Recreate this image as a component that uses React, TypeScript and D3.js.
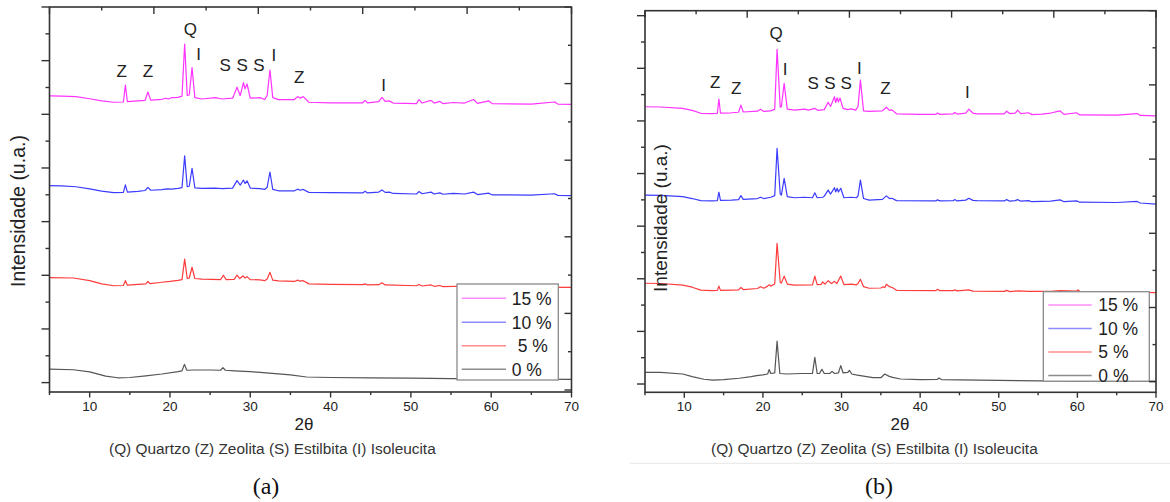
import React from "react";
import * as d3 from "d3";

type Pt = [number, number];
type PeakLabel = { t: string; x: number; y: number };

// ---------------- DATA ----------------
const TWO_THETA_TICKS = [10, 20, 30, 40, 50, 60, 70];
const TWO_THETA_MINOR = [5, 15, 25, 35, 45, 55, 65];
const SERIES_NAMES = ["15 %", "10 %", "5 %", "0 %"];
const CAPTION = "(Q) Quartzo (Z) Zeolita (S) Estilbita (I) Isoleucita";
const X_LABEL = "2θ";
const Y_LABEL = "Intensidade (u.a.)";

// panel (a)
const a15: Pt[] = [[5,10.69],[6.5,10.68],[8.3,10.66],[10,10.58],[11.5,10.5],[13,10.45],[14.2,10.46],[14.45,11.09],[14.7,10.47],[16,10.5],[16.9,10.52],[17.25,10.83],[17.6,10.53],[19,10.56],[19.5,10.6],[19.8,10.57],[20.2,10.62],[21,10.63],[21.5,10.68],[21.83,12.62],[22.15,10.7],[22.4,10.72],[22.75,11.74],[23.1,10.62],[24,10.57],[25.6,10.62],[26.5,10.57],[27.8,10.6],[28.35,11.01],[28.75,10.7],[29.15,11.18],[29.35,10.95],[29.6,11.13],[30,10.6],[31.2,10.62],[31.8,10.55],[32.1,10.7],[32.45,11.65],[32.8,10.62],[33.5,10.55],[35.5,10.55],[35.9,10.66],[36.2,10.6],[36.6,10.66],[37.3,10.45],[40,10.43],[44,10.43],[44.3,10.52],[44.6,10.43],[46,10.47],[46.4,10.63],[46.8,10.48],[47.3,10.5],[47.8,10.42],[50.7,10.4],[51,10.55],[51.4,10.42],[52.5,10.52],[52.9,10.42],[53.6,10.48],[54,10.4],[55.3,10.44],[56.7,10.42],[57.8,10.55],[58.3,10.41],[59.7,10.5],[60.1,10.4],[65,10.38],[67.9,10.46],[68.3,10.38],[70,10.37]];
const a10: Pt[] = [[5,7.34],[6.5,7.33],[8.3,7.3],[10,7.22],[11.5,7.14],[13,7.08],[14.2,7.09],[14.45,7.37],[14.7,7.1],[16,7.13],[16.9,7.16],[17.25,7.28],[17.6,7.17],[19,7.19],[19.6,7.22],[20.2,7.21],[21,7.24],[21.5,7.27],[21.83,8.45],[22.15,7.3],[22.4,7.32],[22.75,7.99],[23.1,7.26],[24,7.24],[25.6,7.25],[26.5,7.23],[27.8,7.25],[28.35,7.53],[28.75,7.36],[29.15,7.55],[29.35,7.42],[29.6,7.52],[30,7.25],[31.2,7.23],[31.8,7.2],[32.1,7.28],[32.45,7.85],[32.8,7.2],[33.5,7.15],[35.5,7.15],[35.9,7.21],[36.2,7.17],[36.6,7.2],[37.3,7.09],[40,7.08],[44,7.07],[44.3,7.13],[44.6,7.07],[46,7.1],[46.4,7.18],[46.8,7.09],[47.3,7.1],[47.8,7.05],[50.7,7.03],[51,7.12],[51.4,7.04],[52.5,7.1],[52.9,7.03],[53.6,7.07],[54,7.02],[55.3,7.05],[56.7,7.03],[57.8,7.1],[58.3,7.01],[59.7,7.06],[60.1,7],[65,6.99],[67.9,7.04],[68.3,6.98],[70,6.97]];
const a5: Pt[] = [[5,3.91],[8,3.9],[10,3.8],[11.5,3.68],[13,3.61],[14.2,3.62],[14.45,3.8],[14.7,3.63],[16,3.66],[17,3.68],[17.25,3.77],[17.5,3.69],[19,3.74],[20,3.77],[21,3.81],[21.5,3.84],[21.83,4.6],[22.15,3.88],[22.4,3.9],[22.75,4.3],[23.1,3.88],[24,3.86],[26.3,3.84],[26.65,4],[27,3.84],[28,3.85],[28.35,4.01],[28.7,3.88],[29.1,3.98],[29.35,3.9],[29.6,3.95],[30,3.84],[31.2,3.83],[31.8,3.8],[32.1,3.86],[32.45,4.11],[32.8,3.82],[33.5,3.79],[35.5,3.77],[35.9,3.82],[36.2,3.78],[36.6,3.8],[37.3,3.68],[40,3.66],[44,3.65],[44.3,3.68],[44.6,3.64],[46,3.65],[46.4,3.72],[46.8,3.64],[50.7,3.61],[51,3.66],[51.4,3.6],[52.5,3.64],[52.9,3.59],[53.6,3.62],[54,3.58],[57.8,3.6],[60,3.57],[65,3.56],[70,3.55]];
const a0: Pt[] = [[5,0.5],[8,0.48],[10,0.4],[12,0.24],[13.5,0.18],[15,0.19],[17,0.25],[19,0.32],[21,0.41],[21.5,0.44],[21.8,0.68],[22.1,0.46],[23,0.47],[25,0.47],[26.3,0.46],[26.6,0.56],[26.9,0.46],[28,0.44],[30,0.41],[32,0.36],[35,0.29],[37,0.21],[40,0.19],[45,0.18],[50,0.17],[55,0.15],[60,0.14],[65,0.13],[70,0.12]];
const aLabels: PeakLabel[] = [
  { t: "Z", x: 13.99, y: 11.61 }, { t: "Z", x: 17.25, y: 11.61 }, { t: "Q", x: 22.53, y: 13.17 },
  { t: "I", x: 23.57, y: 12.24 }, { t: "S", x: 26.88, y: 11.86 }, { t: "S", x: 28.98, y: 11.86 },
  { t: "S", x: 31.09, y: 11.86 }, { t: "I", x: 32.95, y: 12.21 }, { t: "Z", x: 36.09, y: 11.4 },
  { t: "I", x: 46.61, y: 11.09 },
];

// panel (b)
const b15: Pt[] = [[5,10.54],[7,10.53],[9.8,10.48],[11,10.4],[12.1,10.29],[13.5,10.28],[14.2,10.29],[14.4,10.83],[14.6,10.3],[16,10.31],[16.9,10.33],[17.2,10.6],[17.5,10.34],[19.3,10.37],[19.7,10.44],[20.1,10.36],[21,10.38],[21.5,10.45],[21.8,12.72],[22.2,10.52],[22.35,10.55],[22.7,11.43],[23.1,10.45],[24,10.41],[25.3,10.45],[25.8,10.41],[26.6,10.48],[27,10.4],[27.8,10.43],[28.3,10.71],[28.6,10.55],[29.1,10.92],[29.25,10.7],[29.45,10.88],[29.6,10.72],[29.8,10.87],[30.2,10.48],[30.8,10.43],[31.2,10.46],[31.8,10.41],[32.1,10.55],[32.4,11.55],[32.8,10.38],[33.5,10.36],[35.2,10.38],[35.7,10.52],[36.1,10.4],[36.4,10.42],[37,10.27],[40,10.25],[42,10.25],[42.2,10.3],[42.5,10.25],[44.2,10.27],[44.4,10.32],[44.7,10.26],[45.8,10.3],[46.2,10.45],[46.7,10.3],[47.2,10.27],[50.7,10.27],[51,10.37],[51.4,10.28],[52.1,10.3],[52.4,10.41],[52.8,10.28],[53.8,10.31],[54.2,10.24],[55.5,10.26],[56.6,10.3],[57.8,10.38],[58.3,10.25],[59.9,10.31],[60.3,10.23],[65,10.22],[67.6,10.28],[68,10.21],[70,10.19]];
const b10: Pt[] = [[5,7.18],[7,7.17],[9.8,7.12],[11,7.05],[12.1,6.97],[13.5,6.96],[14.2,6.97],[14.4,7.29],[14.6,6.98],[16,6.99],[16.9,7.01],[17.2,7.16],[17.5,7.02],[19.3,7.05],[19.7,7.1],[20.1,7.05],[21,7.1],[21.5,7.16],[21.8,8.96],[22.2,7.22],[22.35,7.18],[22.7,7.82],[23.1,7.12],[24,7.08],[25.3,7.1],[26.3,7.08],[26.6,7.27],[26.9,7.08],[27.6,7.1],[27.8,7.14],[28.3,7.37],[28.6,7.22],[29.1,7.46],[29.25,7.3],[29.45,7.44],[29.6,7.3],[29.9,7.44],[30.3,7.08],[31.2,7.1],[31.9,7.08],[32.1,7.15],[32.4,7.75],[32.8,7.05],[33.5,6.99],[35.2,7.02],[35.7,7.15],[36.1,7.05],[36.4,7.06],[37,6.97],[42,6.96],[42.2,7],[42.5,6.96],[44.2,6.97],[44.4,7.01],[44.7,6.96],[45.8,6.99],[46.2,7.06],[46.7,6.98],[47.2,6.97],[50.7,6.96],[51,7.01],[51.4,6.95],[52.1,6.97],[52.4,7.01],[52.8,6.95],[53.8,6.97],[54.2,6.93],[56.6,6.95],[57.8,7],[58.3,6.93],[59.9,6.96],[60.3,6.91],[65,6.9],[67.6,6.94],[68,6.88],[70,6.84]];
const b5: Pt[] = [[5,3.83],[7,3.82],[9.8,3.76],[11,3.68],[12.1,3.57],[13.5,3.55],[14.2,3.56],[14.4,3.72],[14.6,3.56],[16,3.57],[16.9,3.58],[17.2,3.67],[17.5,3.59],[19.3,3.63],[19.7,3.7],[20.1,3.64],[20.6,3.72],[20.8,3.78],[21,3.72],[21.5,3.8],[21.8,5.35],[22.2,3.86],[22.35,3.84],[22.7,4.1],[23.1,3.8],[24,3.76],[26.3,3.77],[26.6,4.1],[26.9,3.78],[27.4,3.79],[27.6,3.88],[27.9,3.8],[28.3,3.93],[28.7,3.82],[29.1,3.9],[29.4,3.82],[29.9,4.1],[30.3,3.78],[31.2,3.8],[31.9,3.77],[32.1,3.82],[32.4,3.98],[32.8,3.7],[33.5,3.64],[35,3.65],[35.3,3.7],[35.5,3.66],[35.7,3.79],[36.1,3.7],[36.5,3.66],[37,3.56],[42,3.55],[42.2,3.6],[42.5,3.55],[44.2,3.55],[44.4,3.58],[44.7,3.54],[46.2,3.58],[46.7,3.53],[50.7,3.52],[51,3.56],[51.4,3.51],[52.4,3.54],[53.8,3.52],[56.6,3.52],[57.8,3.55],[59.9,3.53],[60.1,3.58],[60.4,3.5],[65,3.49],[70,3.47]];
const b0: Pt[] = [[5,0.44],[7,0.44],[9.8,0.38],[11,0.28],[12.5,0.18],[13.6,0.15],[15,0.17],[17,0.22],[18.5,0.28],[19.2,0.32],[20,0.35],[20.6,0.38],[20.8,0.55],[21,0.4],[21.5,0.42],[21.8,1.63],[22.15,0.4],[23,0.38],[25,0.4],[26.3,0.4],[26.6,1.01],[26.9,0.4],[27.2,0.4],[27.5,0.56],[27.8,0.4],[28.5,0.4],[28.8,0.48],[29.1,0.4],[29.6,0.42],[29.9,0.7],[30.2,0.42],[30.8,0.44],[31,0.52],[31.3,0.38],[32,0.34],[34,0.24],[35,0.24],[35.5,0.38],[36,0.3],[36.5,0.25],[37.5,0.19],[40,0.17],[42.2,0.18],[42.4,0.23],[42.7,0.17],[45,0.16],[50,0.14],[55,0.12],[60,0.11],[65,0.11],[70,0.11]];
const bLabels: PeakLabel[] = [
  { t: "Z", x: 13.93, y: 11.47 }, { t: "Z", x: 16.61, y: 11.24 }, { t: "Q", x: 21.69, y: 13.33 },
  { t: "I", x: 22.82, y: 11.97 }, { t: "S", x: 26.39, y: 11.45 }, { t: "S", x: 28.51, y: 11.45 },
  { t: "S", x: 30.58, y: 11.45 }, { t: "I", x: 32.27, y: 12.02 }, { t: "Z", x: 35.57, y: 11.24 },
  { t: "I", x: 46.01, y: 11.11 },
];

// ---------------- STYLE ----------------
const CURVE_COLORS = ["#ff33ff", "#3c3cff", "#ff3c3c", "#555555"];
const LEGEND_COLORS = ["#ff8cff", "#8c8cff", "#ff8c8c", "#8c8c8c"];
const SANS = "'Liberation Sans', Arial, sans-serif";
const AXIS = "#333333";

type Layout = {
  x0: number; x1: number; top: number; bottom: number;
  yDomain: [number, number]; rightBottom: number;
  legend: { x: number; y: number; w: number; h: number; rows: number[]; lx0: number; lx1: number; tx: number; txOffsets: number[] };
  yLabelX: number; yLabelY: number; yLabelSize: number; xLabelX: number;
  captionX: number; tag: string; tagX: number;
};

function Panel({ series, labels, L }: { series: Pt[][]; labels: PeakLabel[]; L: Layout }) {
  const x = d3.scaleLinear().domain([5, 70]).range([L.x0, L.x1]);
  const y = d3.scaleLinear().domain(L.yDomain).range([L.bottom, L.top]);
  const yr = d3.scaleLinear().domain([0, 10]).range([L.rightBottom, L.top]);
  const xt = d3.scaleLinear().domain([0, 10]).range([L.x0, L.x1]);
  const line = d3.line<Pt>().x((d) => x(d[0])).y((d) => y(d[1]));
  const leftTicks = d3.range(0, 15);
  const tenths = d3.range(0, 11);
  return (
    <g>
      {series.map((s, i) => (
        <path key={i} d={line(s) || ""} fill="none" stroke={CURVE_COLORS[i]} strokeWidth={1.2} strokeLinejoin="round" />
      ))}
      {labels.map((p, i) => (
        <text key={i} x={x(p.x)} y={y(p.y)} dy="0.36em" textAnchor="middle" fontFamily={SANS} fontSize={17} fill="#222">{p.t}</text>
      ))}
      {/* legend */}
      <rect x={L.legend.x} y={L.legend.y} width={L.legend.w} height={L.legend.h} fill="#fff" stroke="#8a8a8a" strokeWidth={1.3} />
      {SERIES_NAMES.map((n, i) => (
        <g key={n}>
          <line x1={L.legend.lx0} x2={L.legend.lx1} y1={L.legend.rows[i]} y2={L.legend.rows[i]} stroke={LEGEND_COLORS[i]} strokeWidth={1.6} />
          <text x={L.legend.tx + L.legend.txOffsets[i]} y={L.legend.rows[i]} dy="0.36em" fontFamily={SANS} fontSize={17.5} fill="#222">{n}</text>
        </g>
      ))}
      {/* frame */}
      <rect x={L.x0} y={L.top} width={L.x1 - L.x0} height={L.bottom - L.top} fill="none" stroke={AXIS} strokeWidth={1.6} />
      {leftTicks.map((t) => (
        <line key={"l" + t} x1={L.x0} x2={L.x0 - (t % 2 === 0 ? 8 : 4)} y1={y(t)} y2={y(t)} stroke={AXIS} strokeWidth={1.4} />
      ))}
      {tenths.map((t) => (
        <line key={"r" + t} x1={L.x1} x2={L.x1 - (t % 2 === 0 ? 7 : 3.5)} y1={yr(t)} y2={yr(t)} stroke={AXIS} strokeWidth={1.4} />
      ))}
      {tenths.map((t) => (
        <line key={"t" + t} x1={xt(t)} x2={xt(t)} y1={L.top} y2={L.top + (t % 2 === 0 ? 7 : 3.5)} stroke={AXIS} strokeWidth={1.4} />
      ))}
      {TWO_THETA_MINOR.map((t) => (
        <line key={"bm" + t} x1={x(t)} x2={x(t)} y1={L.bottom} y2={L.bottom + 3} stroke={AXIS} strokeWidth={1.4} />
      ))}
      {TWO_THETA_TICKS.map((t) => (
        <g key={"b" + t}>
          <line x1={x(t)} x2={x(t)} y1={L.bottom} y2={L.bottom + 5.5} stroke={AXIS} strokeWidth={1.4} />
          <text x={x(t)} y={L.bottom + 19} textAnchor="middle" fontFamily={SANS} fontSize={13.5} fill="#222">{t}</text>
        </g>
      ))}
      <text x={L.xLabelX} y={L.bottom + 38} textAnchor="middle" fontFamily={SANS} fontSize={17} fill="#222">{X_LABEL}</text>
      <text x={L.captionX} y={L.bottom + 62} fontFamily={SANS} fontSize={15.4} fill="#333">{CAPTION}</text>
      <text transform={`translate(${L.yLabelX},${L.yLabelY}) rotate(-90)`} textAnchor="middle" dy="0.36em" fontFamily={SANS} fontSize={L.yLabelSize} fill="#222">{Y_LABEL}</text>
      <text x={L.tagX} y={494} textAnchor="middle" fontFamily="'Liberation Serif', 'Times New Roman', serif" fontSize={24} fill="#111">{L.tag}</text>
    </g>
  );
}

const layoutA: Layout = {
  x0: 49.5, x1: 571.5, top: 7, bottom: 392, yDomain: [-0.35, 14], rightBottom: 390,
  legend: { x: 457, y: 284, w: 101.3, h: 96, rows: [298.3, 322.3, 345.7, 369.3], lx0: 461.7, lx1: 506, tx: 511.7, txOffsets: [0, 0, 6, 0] },
  yLabelX: 18, yLabelY: 211, yLabelSize: 19.5, xLabelX: 304, captionX: 109, tag: "(a)", tagX: 266,
};
const layoutB: Layout = {
  x0: 645, x1: 1156, top: 10.7, bottom: 392.3, yDomain: [-0.315, 14.19], rightBottom: 381.7,
  legend: { x: 1043.3, y: 291.7, w: 106, h: 89.5, rows: [305, 328.5, 352, 375.5], lx0: 1048.3, lx1: 1091.7, tx: 1098.3, txOffsets: [0, 0, 0, 0] },
  yLabelX: 660.5, yLabelY: 218, yLabelSize: 19, xLabelX: 900, captionX: 711, tag: "(b)", tagX: 879,
};

export default function App() {
  return (
    <svg width={1170} height={502} viewBox="0 0 1170 502" style={{ position: "absolute", left: 0, top: 0, background: "#fff" }}>
      <rect x={0} y={0} width={1170} height={502} fill="#fff" />
      <line x1={630} x2={1170} y1={463.3} y2={463.3} stroke="#e6e6e6" strokeWidth={1} />
      <Panel series={[a15, a10, a5, a0]} labels={aLabels} L={layoutA} />
      <Panel series={[b15, b10, b5, b0]} labels={bLabels} L={layoutB} />
    </svg>
  );
}
